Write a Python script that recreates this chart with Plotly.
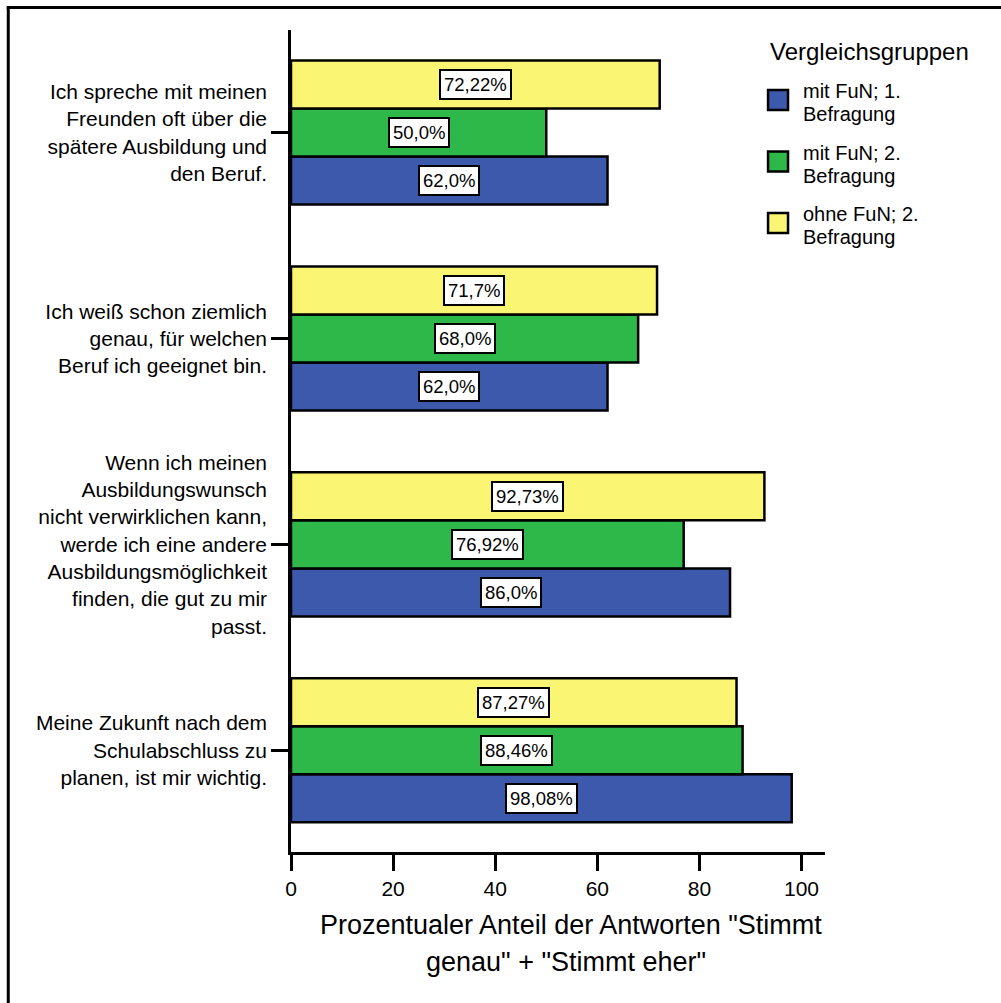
import plotly.graph_objects as go

# Survey statements (top to bottom) and share of "Stimmt genau" + "Stimmt eher" answers
categories = [
    "Ich spreche mit meinen<br>Freunden oft über die<br>spätere Ausbildung und<br>den Beruf.",
    "Ich weiß schon ziemlich<br>genau, für welchen<br>Beruf ich geeignet bin.",
    "Wenn ich meinen<br>Ausbildungswunsch<br>nicht verwirklichen kann,<br>werde ich eine andere<br>Ausbildungsmöglichkeit<br>finden, die gut zu mir<br>passt.",
    "Meine Zukunft nach dem<br>Schulabschluss zu<br>planen, ist mir wichtig.",
]
series_names = ["mit FuN; 1. Befragung", "mit FuN; 2. Befragung", "ohne FuN; 2. Befragung"]
legend_lines = [["mit FuN; 1.", "Befragung"], ["mit FuN; 2.", "Befragung"], ["ohne FuN; 2.", "Befragung"]]
mit_fun_1 = [62.0, 62.0, 86.0, 98.08]
mit_fun_2 = [50.0, 68.0, 76.92, 88.46]
ohne_fun_2 = [72.22, 71.7, 92.73, 87.27]
series_values = [mit_fun_1, mit_fun_2, ohne_fun_2]
x_ticks = [0, 20, 40, 60, 80, 100]
legend_title = "Vergleichsgruppen"
x_title = ['Prozentualer Anteil der Antworten "Stimmt', 'genau" + "Stimmt eher"']

colors = ["#3D59AB", "#2FB84A", "#FAF673"]
FONT = "Liberation Sans, Arial, sans-serif"

W, H = 1001, 1003
L, R_EDGE, T, B_EDGE = 290.5, 825.0, 29.5, 851.7
PW, PH = R_EDGE - L, B_EDGE - T


def px_x(p):
    return (p - L) / PW


def px_y(p):
    return 1 - (p - T) / PH


n = len(categories)
ypos = [n - 1 - i for i in range(n)]  # first statement at the top
bargap = 0.30
bar_w = (1 - bargap) / len(series_values)

fig = go.Figure()
for k, (name, vals, col) in enumerate(zip(series_names, series_values, colors)):
    fig.add_trace(go.Bar(
        y=ypos, x=vals, name=name, orientation="h",
        marker=dict(color=col, line=dict(color="black", width=2.5)),
        showlegend=False, hoverinfo="x+name",
    ))

annotations = []
# value labels in white boxes, centred in each bar
for k, vals in enumerate(series_values):
    offset = (k - (len(series_values) - 1) / 2) * bar_w
    for yp, v in zip(ypos, vals):
        annotations.append(dict(
            x=v / 2, y=yp + offset, xref="x", yref="y",
            text=str(v).replace(".", ",") + "%", showarrow=False,
            font=dict(family=FONT, size=18.5, color="black"),
            bgcolor="white", bordercolor="black", borderwidth=2, borderpad=3,
        ))

# legend drawn at the right
annotations.append(dict(
    x=px_x(768), y=px_y(51.5), xref="paper", yref="paper", xanchor="left", yanchor="middle",
    text=legend_title, showarrow=False, font=dict(family=FONT, size=24, color="black"),
))
shapes = []
for k, (lines, col) in enumerate(zip(legend_lines, colors)):
    cy = 99.5 + 61.5 * k
    shapes.append(dict(
        type="rect", xref="paper", yref="paper",
        x0=px_x(768), x1=px_x(788), y0=px_y(cy - 10), y1=px_y(cy + 10),
        fillcolor=col, line=dict(color="black", width=2.5),
    ))
    for j, line in enumerate(lines):
        annotations.append(dict(
            x=px_x(801), y=px_y(cy - 8.5 + 23 * j), xref="paper", yref="paper",
            xanchor="left", yanchor="middle", text=line, showarrow=False,
            font=dict(family=FONT, size=20, color="black"),
        ))

# x axis title
for j, (line, cx, cy) in enumerate(zip(x_title, [571, 566], [925, 962])):
    annotations.append(dict(
        x=px_x(cx), y=px_y(cy), xref="paper", yref="paper",
        xanchor="center", yanchor="middle", text=line, showarrow=False,
        font=dict(family=FONT, size=27, color="black"),
    ))

# outer frame (left and top edges)
shapes.append(dict(type="line", xref="paper", yref="paper",
                   x0=px_x(7.5), x1=px_x(7.5), y0=px_y(1010), y1=px_y(6.5),
                   line=dict(color="black", width=3)))
shapes.append(dict(type="line", xref="paper", yref="paper",
                   x0=px_x(6), x1=px_x(1010), y0=px_y(7), y1=px_y(7),
                   line=dict(color="black", width=3)))

fig.update_layout(
    width=W, height=H,
    margin=dict(l=L, r=W - R_EDGE, t=T, b=H - B_EDGE, pad=0),
    paper_bgcolor="white", plot_bgcolor="white",
    barmode="group", bargap=bargap, bargroupgap=0,
    font=dict(family=FONT, size=21, color="black"),
    xaxis=dict(
        range=[0, 104.6], tickvals=x_ticks, ticktext=[str(t) for t in x_ticks],
        showgrid=False, zeroline=False, showline=True, linecolor="black", linewidth=2.5,
        ticks="outside", ticklen=16, tickwidth=2.5, tickcolor="black",
        tickfont=dict(family=FONT, size=21),
    ),
    yaxis=dict(
        range=[-0.494, 3.498], tickvals=ypos, ticktext=categories,
        showgrid=False, zeroline=False, showline=True, linecolor="black", linewidth=2.5,
        ticks="outside", ticklen=17, tickwidth=2.5, tickcolor="black",
        tickfont=dict(family=FONT, size=21),
    ),
    annotations=annotations, shapes=shapes,
)

fig.write_html("out.html")
